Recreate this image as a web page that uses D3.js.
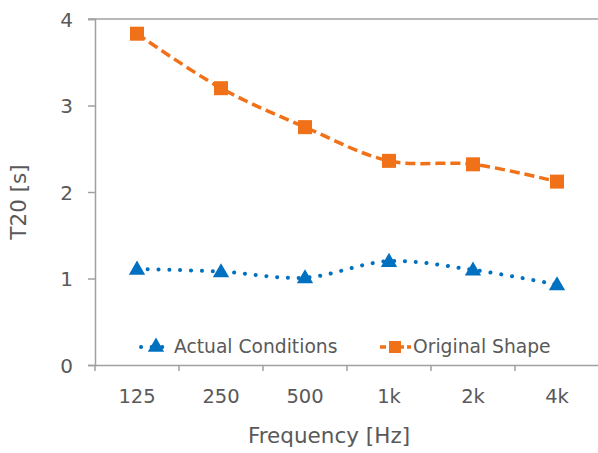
<!DOCTYPE html>
<html>
<head>
<meta charset="utf-8">
<script src="https://cdn.jsdelivr.net/npm/d3@7"></script>
<style>
  body { margin: 0; background: #fff; }
  text { font-family: "DejaVu Sans", Verdana, sans-serif; fill: #595959; }
</style>
</head>
<body>
<svg id="chart"></svg>
<script>
// data
const freqs = ["125", "250", "500", "1k", "2k", "4k"]
const actual = [1.11, 1.08, 1.01, 1.20, 1.10, 0.93]
const original = [3.83, 3.20, 2.75, 2.36, 2.32, 2.12]
const yTicks = [0, 1, 2, 3, 4]

const width = 598
const height = 453
const blue = "#0070C0"
const orange = "#F07118"
const axisCol = "#a0a0a0"

const svg = d3.select("#chart").attr("width", width).attr("height", height)

const x = d3.scaleBand().domain(freqs).range([95, 599])
const y = d3.scaleLinear().domain([0, 4]).range([365, 19])
const cx = d => x(d) + x.bandwidth() / 2

// top line at max value
svg.append("line")
    .attr("x1", 88).attr("x2", 598)
    .attr("y1", y(4)).attr("y2", y(4))
    .attr("stroke", axisCol).attr("stroke-width", 1.5)

// y axis
const yAxis = svg.append("g").attr("transform", "translate(95,0)")
    .call(d3.axisLeft(y).tickValues(yTicks).tickSize(7).tickFormat(d3.format("d")))
yAxis.select(".domain").attr("stroke", axisCol).attr("stroke-width", 1.5)
yAxis.selectAll(".tick line").attr("stroke", axisCol).attr("stroke-width", 1.5)
yAxis.selectAll(".tick text")
    .attr("x", -22).attr("dy", "0.36em").attr("font-size", 20).attr("fill", "#595959")
    .style("font-family", "DejaVu Sans")

// x axis
const xAxis = svg.append("g").attr("transform", "translate(0,365)")
    .call(d3.axisBottom(x).tickSize(0))
xAxis.select(".domain").attr("stroke", axisCol).attr("stroke-width", 1.5)
xAxis.selectAll(".tick text")
    .attr("y", 38).attr("dy", 0).attr("font-size", 19.5).attr("fill", "#595959")
    .style("font-family", "DejaVu Sans")
// category separators
svg.selectAll(".sep")
    .data(freqs)
    .enter().append("line")
    .attr("x1", d => x(d)).attr("x2", d => x(d))
    .attr("y1", 365).attr("y2", 371)
    .attr("stroke", axisCol).attr("stroke-width", 1.5)

// axis titles
svg.append("text")
    .attr("transform", "translate(26,202) rotate(-90)")
    .attr("text-anchor", "middle")
    .attr("font-size", 21.5)
    .text("T20 [s]")
svg.append("text")
    .attr("x", 329).attr("y", 443)
    .attr("text-anchor", "middle")
    .attr("font-size", 21.5)
    .text("Frequency [Hz]")

const line = d3.line()
    .x((d, i) => cx(freqs[i]))
    .y(d => y(d))
    .curve(d3.curveCatmullRom.alpha(0.5))

// original shape
svg.append("path")
    .attr("d", line(original))
    .attr("fill", "none").attr("stroke", orange)
    .attr("stroke-width", 3.5).attr("stroke-dasharray", "10,5")
svg.selectAll(".sq")
    .data(original)
    .enter().append("rect")
    .attr("x", (d, i) => cx(freqs[i]) - 7)
    .attr("y", d => y(d) - 7)
    .attr("width", 14).attr("height", 14)
    .attr("fill", orange)

// actual conditions
svg.append("path")
    .attr("d", line(actual))
    .attr("fill", "none").attr("stroke", blue)
    .attr("stroke-width", 4).attr("stroke-linecap", "round")
    .attr("stroke-dasharray", "0.1,10.7")
const tri = d3.symbol().type(d3.symbolTriangle).size(115)
svg.selectAll(".tri")
    .data(actual)
    .enter().append("path")
    .attr("d", tri)
    .attr("transform", (d, i) => "translate(" + cx(freqs[i]) + "," + (y(d) + 1) + ")")
    .attr("fill", blue)

// legend
const lg = svg.append("g")
lg.append("line")
    .attr("x1", 141).attr("x2", 170).attr("y1", 347).attr("y2", 347)
    .attr("stroke", blue).attr("stroke-width", 4).attr("stroke-linecap", "round")
    .attr("stroke-dasharray", "0.1,10.5")
lg.append("path").attr("d", tri).attr("transform", "translate(156,347)").attr("fill", blue)
lg.append("text").attr("x", 174).attr("y", 353).attr("font-size", 18.7).text("Actual Conditions")

lg.append("line")
    .attr("x1", 380).attr("x2", 411).attr("y1", 347).attr("y2", 347)
    .attr("stroke", orange).attr("stroke-width", 3.5).attr("stroke-dasharray", "6,3")
lg.append("rect").attr("x", 389).attr("y", 341).attr("width", 12).attr("height", 12).attr("fill", orange)
lg.append("text").attr("x", 413).attr("y", 353).attr("font-size", 18.7).text("Original Shape")
</script>
</body>
</html>
